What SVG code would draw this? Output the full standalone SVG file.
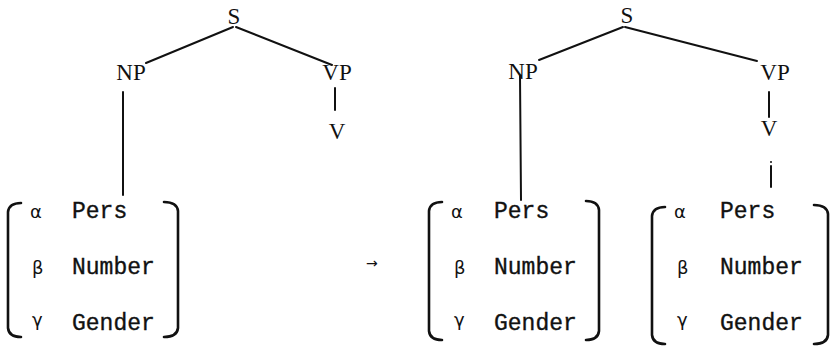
<svg xmlns="http://www.w3.org/2000/svg" width="833" height="347" viewBox="0 0 833 347">
  <style>
    .cat { font-family: "Liberation Serif", "DejaVu Serif", serif; font-size: 23px; fill: #111; text-anchor: middle; }
    .feat { font-family: "Liberation Mono", "DejaVu Sans Mono", monospace; font-size: 23px; fill: #111; stroke: #111; stroke-width: 0.35; }
    .greek { font-family: "DejaVu Sans", "Noto Sans", sans-serif; font-size: 18px; fill: #111; }
    .edge { stroke: #111; stroke-width: 2; fill: none; stroke-linecap: round; }
    .brk { stroke: #111; stroke-width: 2.6; fill: none; stroke-linecap: round; stroke-linejoin: round; }
    .arrow { font-family: "DejaVu Sans", sans-serif; font-size: 14px; fill: #111; }
  </style>
  <rect width="833" height="347" fill="#fff"/>

  <!-- left tree -->
  <g id="tree1-S"><text class="cat" x="234" y="24">S</text></g>
  <g id="tree1-NP"><text class="cat" x="131" y="80">NP</text></g>
  <g id="tree1-VP"><text class="cat" x="337" y="80">VP</text></g>
  <g id="tree1-V"><text class="cat" x="337" y="139">V</text></g>

  <g id="matrix1">
    <path class="brk" d="M21 203 Q9 203 8 212 L8 328 Q9 337 21 337"/>
    <path class="brk" d="M164 202 Q177 202 178 211 L178 328 Q177 337 164 337"/>
    <text class="greek" x="30" y="218">α</text>
    <text class="greek" x="32" y="274">β</text>
    <text class="greek" x="32" y="326">γ</text>
    <text class="feat" x="72" y="218">Pers</text>
    <text class="feat" x="72" y="274">Number</text>
    <text class="feat" x="72" y="330">Gender</text>
  </g>

  <!-- rewrite arrow -->
  <g id="arrow"><text class="arrow" x="366" y="268">→</text></g>

  <!-- right tree -->
  <g id="tree2-S"><text class="cat" x="627" y="23">S</text></g>
  <g id="tree2-NP"><text class="cat" x="523" y="79">NP</text></g>
  <g id="tree2-VP"><text class="cat" x="775" y="80">VP</text></g>
  <g id="tree2-V"><text class="cat" x="769" y="136">V</text></g>

  <g id="matrix2">
    <path class="brk" d="M442 202 Q430 202 429 211 L429 331 Q430 340 442 340"/>
    <path class="brk" d="M586 201 Q598 201 599 210 L599 331 Q598 340 586 340"/>
    <text class="greek" x="451" y="218">α</text>
    <text class="greek" x="454" y="274">β</text>
    <text class="greek" x="454" y="326">γ</text>
    <text class="feat" x="494" y="218">Pers</text>
    <text class="feat" x="494" y="274">Number</text>
    <text class="feat" x="494" y="330">Gender</text>
  </g>

  <g id="matrix3">
    <path class="brk" d="M665 207 Q653 207 652 216 L652 335 Q653 344 665 344"/>
    <path class="brk" d="M814 205 Q827 205 828 214 L828 335 Q827 344 814 344"/>
    <text class="greek" x="674" y="218">α</text>
    <text class="greek" x="677" y="274">β</text>
    <text class="greek" x="677" y="326">γ</text>
    <text class="feat" x="720" y="218">Pers</text>
    <text class="feat" x="720" y="274">Number</text>
    <text class="feat" x="720" y="330">Gender</text>
  </g>

  <g id="connectors">
    <!-- left tree -->
    <line class="edge" x1="233" y1="27" x2="146" y2="63" stroke-width="2.6"/>
    <line class="edge" x1="236" y1="27" x2="332" y2="65"/>
    <line class="edge" x1="123" y1="92" x2="123" y2="195"/>
    <line class="edge" x1="335" y1="88" x2="335" y2="110" stroke-width="1.6"/>
    <!-- right tree -->
    <line class="edge" x1="623" y1="27" x2="539" y2="60"/>
    <line class="edge" x1="625" y1="27" x2="757" y2="61"/>
    <line class="edge" x1="520" y1="76" x2="521" y2="200"/>
    <line class="edge" x1="769" y1="92" x2="769" y2="117" stroke-width="1.6"/>
    <circle cx="771" cy="162" r="1" fill="#111"/>
    <line class="edge" x1="771" y1="166" x2="771" y2="187" stroke-width="1.8"/>
  </g>
</svg>
